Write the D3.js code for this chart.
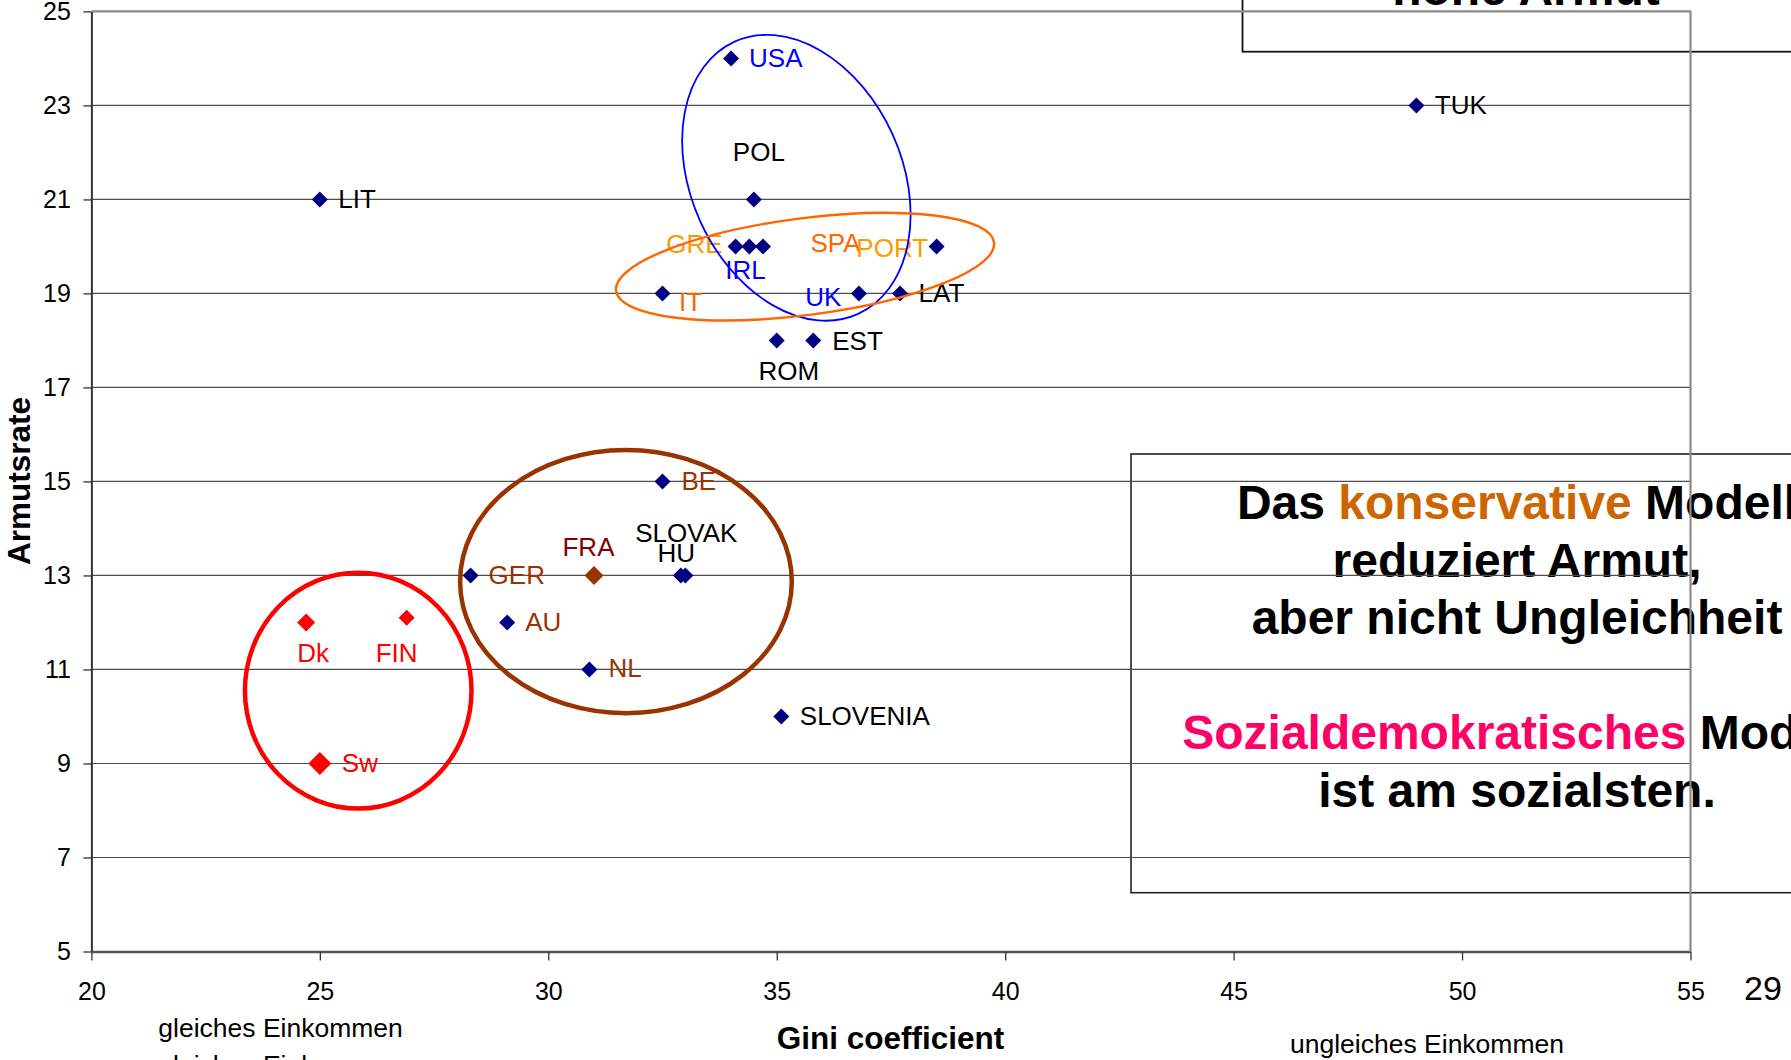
<!DOCTYPE html>
<html>
<head>
<meta charset="utf-8">
<script src="https://cdn.jsdelivr.net/npm/d3@7"></script>
<style>
  body { margin: 0; background: #fff; }
  svg { display: block; font-family: "Liberation Sans", Arial, Helvetica, sans-serif; }
</style>
</head>
<body>
<svg id="chart"></svg>
<script>
// Gini coefficient vs. Armutsrate
const countries = ["USA", "POL", "GRE", "IRL", "SPA", "PORT", "IT", "UK", "LAT", "ROM", "EST", "LIT", "TUK",
  "BE", "GER", "FRA", "SLOVAK", "HU", "AU", "NL", "SLOVENIA", "Dk", "FIN", "Sw"];
const gini    = [34, 34.5, 34.1, 34.4, 34.7, 38.5, 32.5, 36.8, 37.7, 35, 35.8, 25, 49,
  32.5, 28.3, 31, 32.9, 33, 29.1, 30.9, 35.1, 24.7, 26.9, 25];
const poverty = [24, 21, 20, 20, 20, 20, 19, 19, 19, 18, 18, 21, 23,
  15, 13, 13, 13, 13, 12, 11, 10, 12, 12.1, 9];

const xTicks = [20, 25, 30, 35, 40, 45, 50, 55];
const yTicks = [5, 7, 9, 11, 13, 15, 17, 19, 21, 23, 25];

// circled groups (data units)
const ringCx   = [35.43, 35.62, 31.70, 25.84];
const ringCy   = [21.46, 19.57, 12.87, 10.55];
const ringRx   = [2.31, 4.17, 3.63, 2.48];
const ringRy   = [3.18, 1.03, 2.80, 2.51];
const ringTilt = [-24.4, -7.3, 0, 0];

// ---- styling / placement ----
const width = 1791, height = 1060;
const font = '"Liberation Sans", Arial, Helvetica, sans-serif';

const ringStyle = [
  { color: "#0000ff", w: 1.8 },
  { color: "#ff6600", w: 2.4 },
  { color: "#993300", w: 4.5 },
  { color: "#ff0000", w: 4.5 }
];

// dx, dy (baseline) from marker, anchor
const labelPos = {
  USA: [18, 8.5, "start"], POL: [5, -38, "middle"], GRE: [-13, 7, "end"], IRL: [-24, 33, "start"],
  SPA: [47.5, 6, "start"], PORT: [-8.5, 11, "end"], IT: [16.5, 17.5, "start"], UK: [-17.5, 12.5, "end"],
  LAT: [18.5, 9, "start"], ROM: [12, 40, "middle"], EST: [19, 9.5, "start"], LIT: [18.5, 9, "start"],
  TUK: [18.5, 9, "start"], BE: [19, 8.5, "start"], GER: [18, 8.5, "start"], FRA: [-5.5, -19.5, "middle"],
  SLOVAK: [5.5, -33.5, "middle"], HU: [-9, -13.5, "middle"], AU: [18, 8.5, "start"], NL: [19, 7.5, "start"],
  SLOVENIA: [18.5, 8.5, "start"], Dk: [7, 39.5, "middle"], FIN: [-10, 44.5, "middle"], Sw: [22, 9, "start"]
};
const labelColor = {
  USA: "#0000ff", IRL: "#0000ff", UK: "#0000ff",
  GRE: "#ff9900", PORT: "#ff9900", SPA: "#ff6600", IT: "#ff6600",
  BE: "#993300", GER: "#993300", AU: "#993300", NL: "#993300", FRA: "#800000",
  Dk: "#ff0000", FIN: "#ff0000", Sw: "#ff0000"
};
// marker colour and half-diagonal
const markerStyle = {
  FRA: ["#993300", 9.5], Dk: ["#ff0000", 9], FIN: ["#ff0000", 8], Sw: ["#ff0000", 11.5]
};

const svg = d3.select("#chart").attr("width", width).attr("height", height);
svg.append("rect").attr("width", width).attr("height", height).attr("fill", "#fff");

const x = d3.scaleLinear().domain([20, 55]).range([91.4, 1690.5]);
const y = d3.scaleLinear().domain([5, 25]).range([951.5, 11.4]);

// ---- text boxes on the slide ----
const boxes = svg.append("g");
boxes.append("rect")
  .attr("x", 1242.5).attr("y", -20).attr("width", 620).attr("height", 71.7)
  .attr("fill", "none").attr("stroke", "#111").attr("stroke-width", 1.8);
boxes.append("text")
  .attr("x", 1526).attr("y", 5).attr("text-anchor", "middle")
  .attr("font-size", 48).attr("font-weight", "bold").attr("fill", "#000")
  .text("hohe Armut");

boxes.append("rect")
  .attr("x", 1131).attr("y", 454).attr("width", 770).attr("height", 438.7)
  .attr("fill", "none").attr("stroke", "#222").attr("stroke-width", 1.6);

const boxLines = [
  [["Das ", "#000"], ["konservative", "#cc6600"], [" Modell", "#000"]],
  [["reduziert Armut,", "#000"]],
  [["aber nicht Ungleichheit", "#000"]],
  [],
  [["Sozialdemokratisches", "#ff0066"], [" Modell", "#000"]],
  [["ist am sozialsten.", "#000"]]
];
boxLines.forEach((parts, i) => {
  const t = boxes.append("text")
    .attr("x", 1517).attr("y", 519 + i * 57.5).attr("text-anchor", "middle")
    .attr("font-size", 48).attr("font-weight", "bold");
  parts.forEach(p => t.append("tspan").attr("fill", p[1]).text(p[0]));
});

// ---- grid ----
svg.append("g")
  .selectAll("line")
  .data(yTicks.filter(v => v > 5 && v < 25))
  .join("line")
  .attr("x1", x(20)).attr("x2", x(55))
  .attr("y1", d => y(d)).attr("y2", d => y(d))
  .attr("stroke", "#4d4d4d").attr("stroke-width", 1.2);

// plot border top
svg.append("line").attr("x1", x(20)).attr("x2", x(55)).attr("y1", y(25)).attr("y2", y(25))
  .attr("stroke", "#8a8a8a").attr("stroke-width", 2.2);

// ---- axes ----
const yAxis = svg.append("g")
  .attr("transform", `translate(${x(20)},0)`)
  .call(d3.axisLeft(y).tickValues(yTicks).tickSize(8).tickSizeOuter(0).tickPadding(12.5));
yAxis.select(".domain").attr("stroke", "#333").attr("stroke-width", 2);
yAxis.selectAll(".tick line").attr("stroke", "#333").attr("stroke-width", 1.3);
yAxis.selectAll(".tick text").attr("font-size", 25).attr("font-family", font).attr("fill", "#000");

const xAxis = svg.append("g")
  .attr("transform", `translate(0,${y(5)})`)
  .call(d3.axisBottom(x).tickValues(xTicks).tickSize(9).tickSizeOuter(0).tickPadding(22));
xAxis.select(".domain").attr("stroke", "#555").attr("stroke-width", 2.6);
xAxis.selectAll(".tick line").attr("stroke", "#333").attr("stroke-width", 1.3);
xAxis.selectAll(".tick text").attr("font-size", 25).attr("font-family", font).attr("fill", "#000");

// plot border right
svg.append("line").attr("x1", x(55)).attr("x2", x(55)).attr("y1", y(25) - 1).attr("y2", y(5))
  .attr("stroke", "#8a8a8a").attr("stroke-width", 2.2);

// axis titles and slide notes
svg.append("text")
  .attr("transform", `translate(30,481) rotate(-90)`)
  .attr("text-anchor", "middle").attr("font-size", 31.5).attr("font-weight", "bold")
  .text("Armutsrate");
svg.append("text")
  .attr("x", 890.5).attr("y", 1049).attr("text-anchor", "middle")
  .attr("font-size", 31.5).attr("font-weight", "bold")
  .text("Gini coefficient");
svg.append("text").attr("x", 158.3).attr("y", 1036.7).attr("font-size", 26.5).text("gleiches Einkommen");
svg.append("text").attr("x", 158.3).attr("y", 1074).attr("font-size", 26.5).text("gleiches Einkommen");
svg.append("text").attr("x", 1290).attr("y", 1053.3).attr("font-size", 26.5).text("ungleiches Einkommen");
svg.append("text").attr("x", 1744).attr("y", 1000).attr("font-size", 34).text("29");

// ---- points ----
const pts = countries.map((c, i) => ({ name: c, gx: gini[i], py: poverty[i] }));

svg.append("g")
  .selectAll("path")
  .data(pts)
  .join("path")
  .attr("d", d => {
    const half = (markerStyle[d.name] || ["#000080", 8])[1];
    const side = half * Math.SQRT2;
    return d3.symbol().type(d3.symbolSquare).size(side * side)();
  })
  .attr("transform", d => `translate(${x(d.gx)},${y(d.py)}) rotate(45)`)
  .attr("fill", d => (markerStyle[d.name] || ["#000080"])[0]);

svg.append("g")
  .selectAll("text")
  .data(pts)
  .join("text")
  .attr("x", d => x(d.gx) + labelPos[d.name][0])
  .attr("y", d => y(d.py) + labelPos[d.name][1])
  .attr("text-anchor", d => labelPos[d.name][2])
  .attr("font-size", 26)
  .attr("fill", d => labelColor[d.name] || "#000")
  .text(d => d.name);

// ---- circled groups ----
const rings = ringCx.map((cx, i) => ({ cx, cy: ringCy[i], rx: ringRx[i], ry: ringRy[i], tilt: ringTilt[i] }));
svg.append("g")
  .selectAll("ellipse")
  .data(rings)
  .join("ellipse")
  .attr("transform", d => `translate(${x(d.cx)},${y(d.cy)}) rotate(${d.tilt})`)
  .attr("rx", d => x(d.cx + d.rx) - x(d.cx))
  .attr("ry", d => y(d.cy) - y(d.cy + d.ry))
  .attr("fill", "none")
  .attr("stroke", (d, i) => ringStyle[i].color)
  .attr("stroke-width", (d, i) => ringStyle[i].w);
</script>
</body>
</html>
